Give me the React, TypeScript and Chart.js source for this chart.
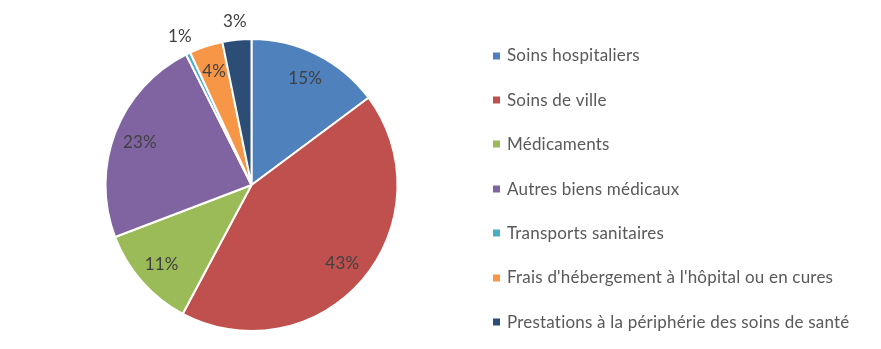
import React, { useEffect, useRef } from "react";
import { Chart, registerables } from "chart.js";

Chart.register(...registerables);

const categories = [
  "Soins hospitaliers",
  "Soins de ville",
  "Médicaments",
  "Autres biens médicaux",
  "Transports sanitaires",
  "Frais d'hébergement à l'hôpital ou en cures",
  "Prestations à la périphérie des soins de santé",
];
const values = [14.8, 43.0, 11.4, 23.4, 0.5, 3.7, 3.2];
const percentLabels = ["15%", "43%", "11%", "23%", "1%", "4%", "3%"];
const outsideLabel = [false, false, false, false, true, false, true];
const colors = ["#4F81BD", "#C0504D", "#9BBB59", "#8064A2", "#4BACC6", "#F79646", "#2C4D75"];

const FONT = "Lato, 'Open Sans', sans-serif";

const labelsPlugin = {
  id: "pieLabels",
  afterDatasetsDraw(chart: any) {
    const ctx = chart.ctx;
    const meta = chart.getDatasetMeta(0);
    ctx.save();
    ctx.font = `17px ${FONT}`;
    (ctx as any).letterSpacing = "0.2px";
    ctx.fillStyle = "#404040";
    ctx.textAlign = "center";
    ctx.textBaseline = "middle";
    meta.data.forEach((arc: any, i: number) => {
      const { x, y, startAngle, endAngle, outerRadius } = arc.getProps(
        ["x", "y", "startAngle", "endAngle", "outerRadius"],
        true
      );
      const mid = (startAngle + endAngle) / 2;
      const r = outsideLabel[i] ? outerRadius + 19 : outerRadius * 0.82;
      ctx.fillText(percentLabels[i], x + Math.cos(mid) * r, y + Math.sin(mid) * r + 0.5);
    });
    ctx.restore();
  },
};

const legendPlugin = {
  id: "sideLegend",
  afterDraw(chart: any) {
    const ctx = chart.ctx;
    ctx.save();
    ctx.font = `17px ${FONT}`;
    (ctx as any).letterSpacing = "0.2px";
    ctx.textAlign = "left";
    ctx.textBaseline = "middle";
    categories.forEach((name, i) => {
      const cy = 55.5 + i * 44.4;
      ctx.fillStyle = colors[i];
      ctx.fillRect(493, Math.round(cy) - 3.5, 7, 7);
      ctx.fillStyle = "#595959";
      ctx.fillText(name, 507, cy + 0.5);
    });
    ctx.restore();
  },
};

export default function App() {
  const ref = useRef<HTMLCanvasElement | null>(null);
  useEffect(() => {
    document.body.style.margin = "0";
    const chart = new Chart(ref.current as HTMLCanvasElement, {
      type: "pie",
      data: {
        labels: categories,
        datasets: [
          {
            data: values,
            backgroundColor: colors,
            borderColor: "#ffffff",
            borderWidth: 2,
          },
        ],
      },
      options: {
        animation: false,
        responsive: false,
        maintainAspectRatio: false,
        rotation: 0,
        layout: { padding: { left: 104.5, right: 482.5, top: 38, bottom: 17 } },
        plugins: {
          legend: { display: false },
          tooltip: { enabled: false },
        },
      },
      plugins: [labelsPlugin, legendPlugin],
    });
    return () => chart.destroy();
  }, []);
  return (
    <div style={{ width: 881, height: 349, background: "#fff" }}>
      <canvas ref={ref} width={881} height={349} style={{ display: "block" }} />
    </div>
  );
}
